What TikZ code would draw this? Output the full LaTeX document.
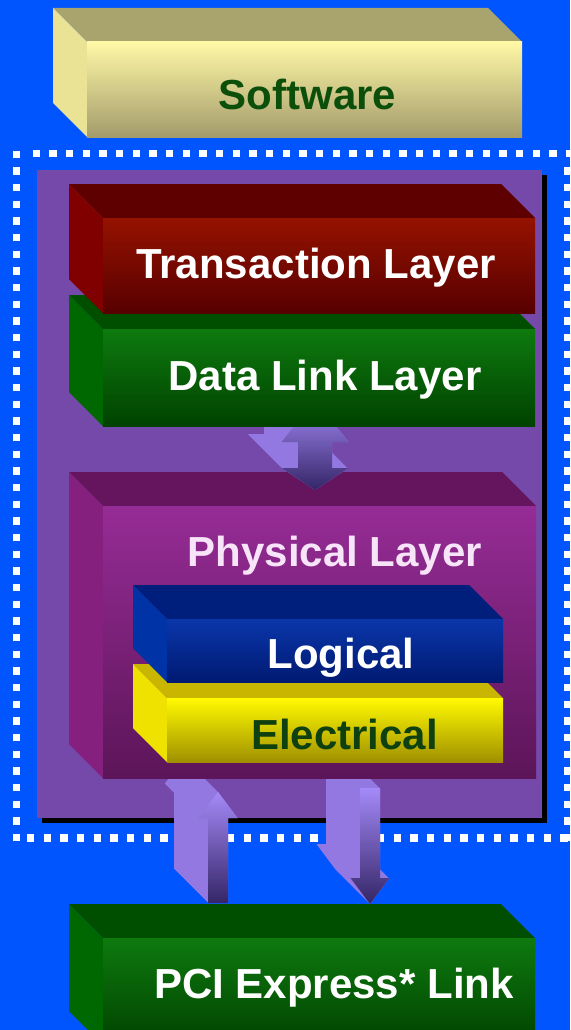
\documentclass[tikz,border=0pt]{standalone}
\usepackage{fontspec}
\setmainfont{Liberation Sans}
\definecolor{bg}{RGB}{0,85,255}
\definecolor{panel}{RGB}{117,73,169}
\definecolor{arrside}{RGB}{146,120,224}
\definecolor{arrlight}{RGB}{164,138,248}
\definecolor{arrmid}{RGB}{136,114,221}
\definecolor{arrdark}{RGB}{52,37,102}
% software
\definecolor{swtop}{RGB}{169,164,110}
\definecolor{swleft}{RGB}{234,227,150}
\definecolor{swft}{RGB}{255,248,166}
\definecolor{swfb}{RGB}{163,155,107}
\definecolor{swtxt}{RGB}{11,79,11}
% physical
\definecolor{phtop}{RGB}{100,21,94}
\definecolor{phleft}{RGB}{134,32,127}
\definecolor{phft}{RGB}{150,44,150}
\definecolor{phfm}{RGB}{140,40,140}
\definecolor{phfb}{RGB}{92,21,88}
\definecolor{phtxt}{RGB}{248,228,248}
% electrical
\definecolor{eltop}{RGB}{201,182,0}
\definecolor{elleft}{RGB}{240,226,0}
\definecolor{elft}{RGB}{255,250,0}
\definecolor{elfb}{RGB}{160,144,0}
\definecolor{eltxt}{RGB}{15,64,16}
% logical
\definecolor{lotop}{RGB}{0,30,124}
\definecolor{loleft}{RGB}{0,51,166}
\definecolor{loft}{RGB}{10,54,170}
\definecolor{lofb}{RGB}{0,26,114}
% data link / pci
\definecolor{grtop}{RGB}{0,78,0}
\definecolor{grleft}{RGB}{0,104,0}
\definecolor{grft}{RGB}{14,122,14}
\definecolor{grfb}{RGB}{0,66,0}
% transaction
\definecolor{trtop}{RGB}{94,0,0}
\definecolor{trleft}{RGB}{128,0,0}
\definecolor{trft}{RGB}{149,18,0}
\definecolor{trfb}{RGB}{87,0,0}
\tikzset{
  dots/.style={white, line width=7.3pt, dash pattern=on 7.3pt off 9.37pt},
  lbl/.style={font=\bfseries\fontsize{42}{48}\selectfont, anchor=base, inner sep=0pt},
  arrfront/.style={top color=arrlight, middle color=arrmid, bottom color=arrdark}
}
% #1 name, #2 x0, #3 y0 (front top-left), #4 x1, #5 y1 (front bottom-right),
% #6 top face, #7 left face, #8 front top, #9 front bottom
\newcommand{\layerbox}[9]{%
  \fill[#6] (#2,#3) -- (#2-34,#3-34) -- (#4-34,#3-34) -- (#4,#3) -- cycle;
  \fill[#7] (#2,#3) -- (#2-34,#3-34) -- (#2-34,#5-34) -- (#2,#5) -- cycle;
  \shade[top color=#8, bottom color=#9] (#2,#3) rectangle (#4,#5);
  \coordinate (#1) at ({(#2+#4)/2},{(#3+#5)/2});
}
\def\leftarrowpath{(208,903) -- (208,818) -- (198.5,818) -- (218,792) -- (237.5,818) -- (228,818) -- (228,903) -- cycle}
\def\rightarrowpath{(360,788) -- (380,788) -- (380,878) -- (389.5,878) -- (370,904) -- (350.5,878) -- (360,878) -- cycle}
\def\midarrowpath{(298,442) -- (281.5,442) -- (315,400) -- (348.5,442) -- (332,442) -- (332,468) -- (348.5,468) -- (315,490) -- (281.5,468) -- (298,468) -- cycle}
\begin{document}
\begin{tikzpicture}[x=1pt,y=-1pt]
\useasboundingbox (0,0) rectangle (570,1030);
\clip (0,0) rectangle (570,1030);
\fill[bg] (0,0) rectangle (570,1030);

% Software
\layerbox{sw}{87}{42}{522}{137}{swtop}{swleft}{swft}{swfb}
\node[lbl, text=swtxt] (swt) at (307.5,110) {Software};

% dotted frame
\draw[dots] (32.7,153.7) -- (570,153.7);
\draw[dots] (16.4,150.65) -- (16.4,842);
\draw[dots] (27,838) -- (570,838);
\draw[dots] (568,167.3) -- (568,842);

% panel with shadow
\fill[black] (42,175) rectangle (547,823);
\fill[panel] (37,170) rectangle (542,818);

% bottom block arrows
\foreach \s in {0,1,...,34} \fill[arrside, shift={(-\s,-\s)}] \leftarrowpath;
\shade[arrfront] \leftarrowpath;
\foreach \s in {0,1,...,34} \fill[arrside, shift={(-\s,-\s)}] \rightarrowpath;
\shade[arrfront] \rightarrowpath;

% Physical layer
\fill[phtop] (103,506) -- (69,472) -- (502,472) -- (536,506) -- cycle;
\fill[phleft] (103,506) -- (69,472) -- (69,744) -- (103,778) -- cycle;
\shade[top color=phft, middle color=phfm, bottom color=phfb] (103,506) rectangle (536,778);
\coordinate (phys) at (320,642);
\node[lbl, text=phtxt] (physt) at (335,566.7) {Physical Layer};

% Electrical and Logical
\layerbox{elec}{167}{698}{503}{762}{eltop}{elleft}{elft}{elfb}
\node[lbl, text=eltxt] (elect) at (344.5,749) {Electrical};
\layerbox{logi}{167}{619}{503}{682}{lotop}{loleft}{loft}{lofb}
\node[lbl, text=white] (logit) at (341,668) {Logical};

% middle block arrow
\foreach \s in {0,1,...,34} \fill[arrside, shift={(-\s,-\s)}] \midarrowpath;
\shade[arrfront] \midarrowpath;

% Data link and transaction
\layerbox{dl}{103}{329}{535}{426}{grtop}{grleft}{grft}{grfb}
\node[lbl, text=white] (dlt) at (325,390) {Data Link Layer};
\layerbox{tl}{103}{218}{535}{313}{trtop}{trleft}{trft}{trfb}
\node[lbl, text=white] (tlt) at (316,278) {Transaction Layer};

% PCI Express link
\layerbox{pci}{103}{938}{535}{1045}{grtop}{grleft}{grft}{grfb}
\node[lbl, text=white] (pcit) at (334,998) {PCI Express* Link};
\end{tikzpicture}
\end{document}
